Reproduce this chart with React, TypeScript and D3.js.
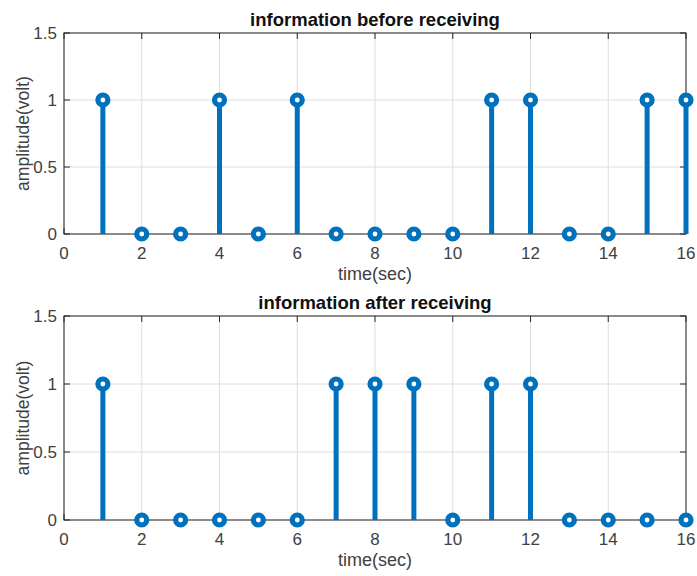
import * as d3 from "d3";

const times = d3.range(1, 17);
const before = [1, 0, 0, 1, 0, 1, 0, 0, 0, 0, 1, 1, 0, 0, 1, 1];
const after = [1, 0, 0, 0, 0, 0, 1, 1, 1, 0, 1, 1, 0, 0, 0, 0];
const xTicks = [0, 2, 4, 6, 8, 10, 12, 14, 16];
const yTicks = [0, 0.5, 1, 1.5];

const W = 697;
const H = 576;
const BLUE = "#0072BD";
const FONT = "'Liberation Sans', Arial, Helvetica, sans-serif";

function StemPanel({ title, values, top, bottom }) {
  const x = d3.scaleLinear().domain([0, 16]).range([64, 686]);
  const y = d3.scaleLinear().domain([0, 1.5]).range([bottom, top]);
  const [x0, x1] = x.range();

  return (
    <g>
      {/* grid */}
      {xTicks.map((t) => (
        <line key={"gx" + t} x1={x(t)} x2={x(t)} y1={top} y2={bottom} stroke="#dedede" strokeWidth={1} />
      ))}
      {yTicks.map((t) => (
        <line key={"gy" + t} x1={x0} x2={x1} y1={y(t)} y2={y(t)} stroke="#dedede" strokeWidth={1} />
      ))}
      {/* box */}
      <rect x={x0} y={top} width={x1 - x0} height={bottom - top} fill="none" stroke="#262626" strokeWidth={1} />
      {/* ticks */}
      {xTicks.map((t) => (
        <g key={"tx" + t}>
          <line x1={x(t)} x2={x(t)} y1={bottom} y2={bottom - 6} stroke="#262626" />
          <line x1={x(t)} x2={x(t)} y1={top} y2={top + 6} stroke="#262626" />
          <text x={x(t)} y={bottom + 25} textAnchor="middle" fontSize={17} fill="#404040" fontFamily={FONT}>
            {t}
          </text>
        </g>
      ))}
      {yTicks.map((t) => (
        <g key={"ty" + t}>
          <line x1={x0} x2={x0 + 6} y1={y(t)} y2={y(t)} stroke="#262626" />
          <line x1={x1} x2={x1 - 6} y1={y(t)} y2={y(t)} stroke="#262626" />
          <text x={x0 - 7} y={y(t) + 6} textAnchor="end" fontSize={17} fill="#404040" fontFamily={FONT}>
            {t}
          </text>
        </g>
      ))}
      {/* stems */}
      {times.map((t, i) => (
        <line key={"s" + t} x1={x(t)} x2={x(t)} y1={y(0)} y2={y(values[i])} stroke={BLUE} strokeWidth={5} />
      ))}
      {times.map((t, i) => (
        <circle key={"m" + t} cx={x(t)} cy={y(values[i])} r={5} fill="white" stroke={BLUE} strokeWidth={5.2} />
      ))}
      <text x={(x0 + x1) / 2} y={top - 7} textAnchor="middle" fontSize={18.5} fontWeight="bold" fill="#111" fontFamily={FONT}>
        {title}
      </text>
      <text x={(x0 + x1) / 2} y={bottom + 46} textAnchor="middle" fontSize={18} fill="#404040" fontFamily={FONT}>
        time(sec)
      </text>
      <text
        transform={`translate(29,${(top + bottom) / 2}) rotate(-90)`}
        textAnchor="middle"
        fontSize={17.5}
        fill="#404040"
        fontFamily={FONT}
      >
        amplitude(volt)
      </text>
    </g>
  );
}

export default function App() {
  return (
    <svg
      width={W}
      height={H}
      style={{ position: "absolute", left: 0, top: 0, background: "white" }}
    >
      <rect width={W} height={H} fill="white" />
      <StemPanel title="information before receiving" values={before} top={33} bottom={234} />
      <StemPanel title="information after receiving" values={after} top={316} bottom={520} />
    </svg>
  );
}
